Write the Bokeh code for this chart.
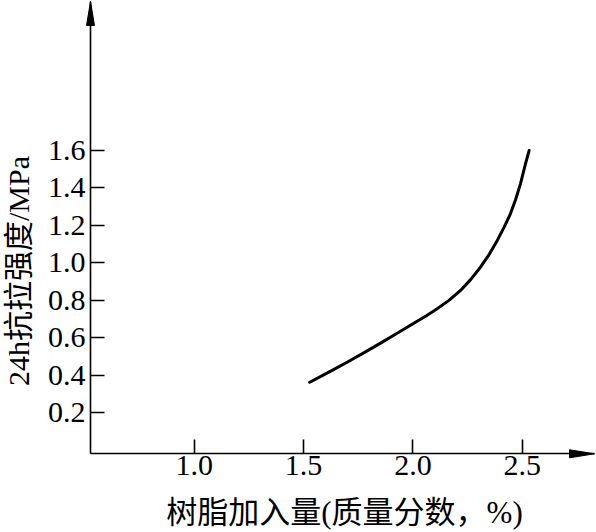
import math
from bokeh.plotting import figure
from bokeh.models import FixedTicker, Label, PolyAnnotation, Range1d
from bokeh.embed import file_html
from bokeh.resources import INLINE

# ---- data ----
resin = [1.528, 1.620, 1.699, 1.775, 1.852, 1.930, 2.004, 2.060, 2.111, 2.165,
         2.218, 2.265, 2.309, 2.350, 2.386, 2.418, 2.446, 2.470, 2.492, 2.515, 2.532]
strength = [0.363, 0.420, 0.470, 0.520, 0.572, 0.626, 0.678, 0.717, 0.755, 0.800,
            0.853, 0.912, 0.977, 1.047, 1.120, 1.192, 1.262, 1.338, 1.422, 1.529, 1.600]

x_ticks = [1.0, 1.5, 2.0, 2.5]
x_tick_labels = ["1.0", "1.5", "2.0", "2.5"]
y_ticks = [0.2, 0.4, 0.6, 0.8, 1.0, 1.2, 1.4, 1.6]
y_tick_labels = ["0.2", "0.4", "0.6", "0.8", "1.0", "1.2", "1.4", "1.6"]

x_title = "树脂加入量(质量分数，%)"
y_title = "24h抗拉强度/MPa"

# ---- layout (the frame covers the whole canvas; axes sit at fixed positions) ----
W, H = 596, 532
XPX, YPX = 218.6, 187.4            # pixels per data unit
X0 = 1.75 - 357.75 / XPX           # data x at the left canvas edge
Y1 = 449.8 / YPX                   # data y at the top canvas edge
X1, Y0 = X0 + W / XPX, Y1 - H / YPX


def dx(px):   # canvas px -> data x
    return X0 + px / XPX


def dy(py):   # canvas py (from top) -> data y
    return Y1 - py / YPX


AX_X = dx(90)      # y axis position
AX_Y = dy(453.3)   # x axis position
TOP = dy(1)
RIGHT = dx(594)

LATIN = "Liberation Serif"
MIXED = "Liberation Serif, Noto Sans CJK SC"

p = figure(width=W, height=H, output_backend="svg", toolbar_location=None,
           x_range=Range1d(X0, X1), y_range=Range1d(Y0, Y1),
           min_border=0, min_border_left=0, min_border_right=0,
           min_border_top=0, min_border_bottom=0)
p.outline_line_color = None
p.grid.visible = False
p.background_fill_color = "white"
p.border_fill_color = "white"

for ax in (p.xaxis[0], p.yaxis[0]):
    ax.axis_line_color = "black"
    ax.axis_line_width = 1.6
    ax.major_tick_line_color = "black"
    ax.major_tick_line_width = 1.6
    ax.major_tick_in = 14
    ax.major_tick_out = 0
    ax.minor_tick_line_color = None
    ax.major_label_text_font = LATIN
    ax.major_label_text_font_size = "30px"
    ax.major_label_text_color = "black"

p.xaxis[0].fixed_location = AX_Y
p.xaxis[0].bounds = (AX_X, RIGHT)
p.xaxis[0].ticker = FixedTicker(ticks=x_ticks)
p.xaxis[0].major_label_overrides = dict(zip(x_ticks, x_tick_labels))
p.xaxis[0].major_label_standoff = 2

p.yaxis[0].fixed_location = AX_X
p.yaxis[0].bounds = (AX_Y, TOP)
p.yaxis[0].ticker = FixedTicker(ticks=y_ticks)
p.yaxis[0].major_label_overrides = dict(zip(y_ticks, y_tick_labels))
p.yaxis[0].major_label_standoff = 5

# axis titles
p.add_layout(Label(x=dx(344), y=dy(512), text=x_title,
                   text_align="center", text_baseline="middle",
                   text_font=MIXED, text_font_size="31px", text_color="black"))
p.add_layout(Label(x=dx(18), y=dy(270.5), text=y_title, angle=math.pi / 2,
                   text_align="center", text_baseline="middle",
                   text_font=MIXED, text_font_size="30px", text_color="black"))

# arrow heads on the axes
p.add_layout(PolyAnnotation(xs=[AX_X, AX_X - 4 / XPX, AX_X + 4 / XPX],
                            ys=[TOP, TOP - 24 / YPX, TOP - 24 / YPX],
                            fill_color="black", fill_alpha=1, line_color="black", line_alpha=1))
p.add_layout(PolyAnnotation(xs=[RIGHT, RIGHT - 25 / XPX, RIGHT - 25 / XPX],
                            ys=[AX_Y, AX_Y + 4 / YPX, AX_Y - 4 / YPX],
                            fill_color="black", fill_alpha=1, line_color="black", line_alpha=1))

p.line(resin, strength, line_color="black", line_width=3, line_cap="round", line_join="round")

open("out.html", "w").write(file_html(p, INLINE))
